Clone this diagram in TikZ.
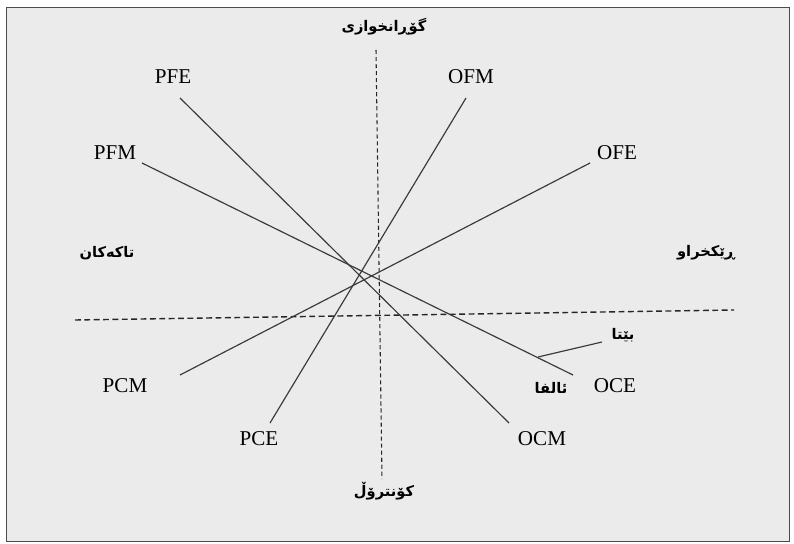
\documentclass[tikz,border=0pt]{standalone}
\usepackage{fontspec}
\setmainfont{Liberation Serif}
\newfontfamily\kurdfont[Script=Arabic]{DejaVu Sans}
\TeXXeTstate=1
\usetikzlibrary{positioning}
\definecolor{panel}{HTML}{EBEBEB}
\definecolor{ink}{HTML}{3A3A3A}

\begin{document}
\begin{tikzpicture}[x=0.03cm,y=-0.03cm,
    lbl/.style={font=\fontsize{18}{20}\selectfont},
    ku/.style={font=\kurdfont\bfseries\fontsize{12.5}{14}\selectfont},
    vaxis/.style={draw=black!85, line width=0.9pt, dash pattern=on 3.5pt off 2.5pt},
    haxis/.style={draw=black!85, line width=1.2pt, dash pattern=on 5pt off 3pt},
    ray/.style={draw=ink, line width=1pt}]
    \useasboundingbox (0,0) rectangle (794,544);
    \path[fill=panel, draw=black!70, line width=0.8pt] (6,7) rectangle (789,541);

    % axes
    \node[ku] (top)    at (384,27)  {\beginR گۆڕانخوازی\endR};
    \node[ku] (bottom) at (384,491) {\beginR کۆنترۆڵ\endR};
    \node[ku] (left)   at (107,253) {\beginR تاکەکان\endR};
    \node[ku] (right)  at (706,253) {\beginR ڕێکخراو\endR};
    \coordinate (v_1) at (376,50);
    \coordinate (v_2) at (382,479);
    \coordinate (h_1) at (75,320);
    \coordinate (h_2) at (734,310);
    \path[vaxis] (v_1) -- (v_2);
    \path[haxis] (h_1) -- (h_2);

    % labels
    \node[lbl] (pfe) at (173,77)  {PFE};
    \node[lbl] (ofm) at (471,77)  {OFM};
    \node[lbl] (pfm) at (115,153) {PFM};
    \node[lbl] (ofe) at (617,153) {OFE};
    \node[lbl] (pcm) at (125,386) {PCM};
    \node[lbl] (oce) at (615,386) {OCE};
    \node[lbl] (pce) at (259,439) {PCE};
    \node[lbl] (ocm) at (542,439) {OCM};

    % line ends
    \coordinate (pfe_e) at (180,98);
    \coordinate (ocm_e) at (509,423);
    \coordinate (pfm_e) at (142,163);
    \coordinate (oce_e) at (573,375);
    \coordinate (ofm_e) at (466,98);
    \coordinate (pce_e) at (270,423);
    \coordinate (ofe_e) at (590,163);
    \coordinate (pcm_e) at (180,375);

    \path[ray]
    (pfe_e) edge (ocm_e)
    (pfm_e) edge (oce_e)
    (ofm_e) edge (pce_e)
    (ofe_e) edge (pcm_e);

    % beta / alpha
    \node[ku] (beta)  at (623,335) {\beginR بێتا\endR};
    \node[ku] (alpha) at (551,388) {\beginR ئالفا\endR};
    \coordinate (b_1) at (602,342);
    \coordinate (b_2) at (538,357);
    \path[ray] (b_1) -- (b_2);
\end{tikzpicture}
\end{document}
